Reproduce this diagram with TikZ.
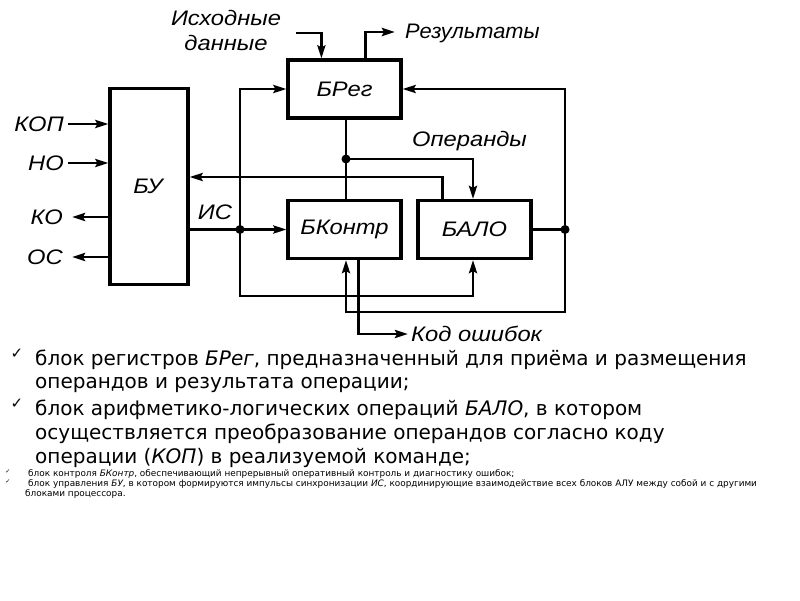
\documentclass[tikz,border=0pt]{standalone}
\usepackage{fontspec}
\setmainfont{Liberation Sans}
\newfontfamily\dv{DejaVu Sans}
\usetikzlibrary{arrows.meta,calc}
\newcommand{\wlbl}[1]{\scalebox{1.13}[1]{#1}}
\begin{document}
\begin{tikzpicture}[x=1pt,y=-1pt,
  blk/.style={draw,line width=3.2pt,minimum width=113pt,minimum height=58pt,inner sep=0pt,font=\fontsize{21}{24}\selectfont\itshape},
  ln/.style={line width=2.8pt},
  arr/.style={line width=2.8pt,-{Stealth[length=13pt,width=8pt,inset=2pt]}},
  lbl/.style={inner sep=0pt,font=\fontsize{21}{23}\selectfont\itshape},
  dot/.style={circle,fill,inner sep=0pt,minimum size=9pt},
  big/.style={inner sep=0pt,anchor=west,font=\dv\fontsize{20}{23}\selectfont},
  small/.style={inner sep=0pt,anchor=west,font=\dv\fontsize{8.9}{10}\selectfont},
  chk/.style={inner sep=0pt,font=\dv\fontsize{15}{15}\selectfont}]
\useasboundingbox (0,0) rectangle (800,600);
\fill[white] (0,0) rectangle (800,600);
% blocks
\node[blk] (breg) at (344.5,89) {\wlbl{БРег}};
\node[blk] (bkontr) at (344.5,229.5) {\wlbl{БКонтр}};
\node[blk] (balo) at (474.5,229.5) {\wlbl{БАЛО}};
\node[blk,minimum width=78pt,minimum height=196pt] (bu) at (149,186.5) {};
\node[lbl] (butxt) at (148,186) {\wlbl{БУ}};
% labels
\node[lbl,align=center,font=\fontsize{21}{25}\selectfont\itshape] (isx) at (226,30) {\wlbl{Исходные}\\\wlbl{данные}};
\node[lbl,anchor=west] (res) at (405,33) {\scalebox{1.04}[1]{Результаты}};
\node[lbl,anchor=west] (oper) at (412,141) {\wlbl{Операнды}};
\node[lbl,anchor=west] (kod) at (411,334) {\wlbl{Код ошибок}};
\node[lbl] (is) at (215,212) {\wlbl{ИС}};
\node[lbl,anchor=east] (kop) at (64,124) {\wlbl{КОП}};
\node[lbl,anchor=east] (no) at (64,163) {\wlbl{НО}};
\node[lbl,anchor=east] (ko) at (63,217) {\wlbl{КО}};
\node[lbl,anchor=east] (os) at (63,257) {\wlbl{ОС}};
% coordinates
\coordinate (in1) at (296,33);
\coordinate (out1) at (395,32);
\coordinate (j1) at (240,229.5);
\coordinate (j2) at (565,229.5);
\coordinate (j3) at (344.5,159);
\coordinate (lowA) at (240,296);
\coordinate (lowB) at (565,312);
\coordinate (fb) at (444,177);
% connectors
\draw[arr] (in1) -| ([xshift=35pt]breg.north west);
\draw[arr] ([xshift=79pt]breg.north west) |- (out1);
\draw[arr] (bu.east |- j1) -- (bkontr.west);
\draw[arr] (j1) |- (breg.west);
\draw[arr] (j1) -- (lowA) -| ([xshift=-1.5pt]balo.south);
\draw[ln] (balo.east) -- (j2);
\draw[arr] (j2) |- (breg.east);
\draw[arr] (j2) -- (lowB) -| ([xshift=1.5pt]bkontr.south);
\draw[arr] ([xshift=72pt]bkontr.south west) |- ([xshift=-3pt]kod.west);
\draw[ln] ([xshift=1.5pt]breg.south) -- ([xshift=1.5pt]bkontr.north);
\draw[arr] ([xshift=1.5pt]j3) -| ([xshift=-1.5pt]balo.north);
\draw[arr] ([xshift=26pt]balo.north west) |- (bu.east |- fb);
\draw[arr] ([xshift=4pt]kop.east) -- (bu.west |- kop.east);
\draw[arr] ([xshift=4pt]no.east) -- (bu.west |- no.east);
\draw[arr] (bu.west |- ko.east) -- ([xshift=9pt]ko.east);
\draw[arr] (bu.west |- os.east) -- ([xshift=9pt]os.east);
\node[dot] at ([xshift=1.5pt]j3) {};
\node[dot] at (j1) {};
\node[dot] at (j2) {};
% text
\node[chk] (c1) at (17,354) {✓};
\node[big] (t1) at (35,360) {блок регистров \textit{БРег}, предназначенный для приёма и размещения};
\node[big] (t2) at (35,385) {операндов и результата операции;};
\node[chk] (c2) at (17,404) {✓};
\node[big] (t3) at (35,410) {блок арифметико-логических операций \textit{БАЛО}, в котором};
\node[big] (t4) at (35,434) {осуществляется преобразование операндов согласно коду};
\node[big] (t5) at (35,458) {операции (\textit{КОП}) в реализуемой команде;};
\node[chk,font=\dv\fontsize{6}{6}\selectfont] (c3) at (8,472) {✓};
\node[small] (t6) at (28,474) {блок контроля \textit{БКонтр}, обеспечивающий непрерывный оперативный контроль и диагностику ошибок;};
\node[chk,font=\dv\fontsize{6}{6}\selectfont] (c4) at (8,482) {✓};
\node[small] (t7) at (28,484) {блок управления \textit{БУ}, в котором формируются импульсы синхронизации \textit{ИС}, координирующие взаимодействие всех блоков АЛУ между собой и с другими};
\node[small] (t8) at (25,494) {блоками процессора.};
\end{tikzpicture}
\end{document}
